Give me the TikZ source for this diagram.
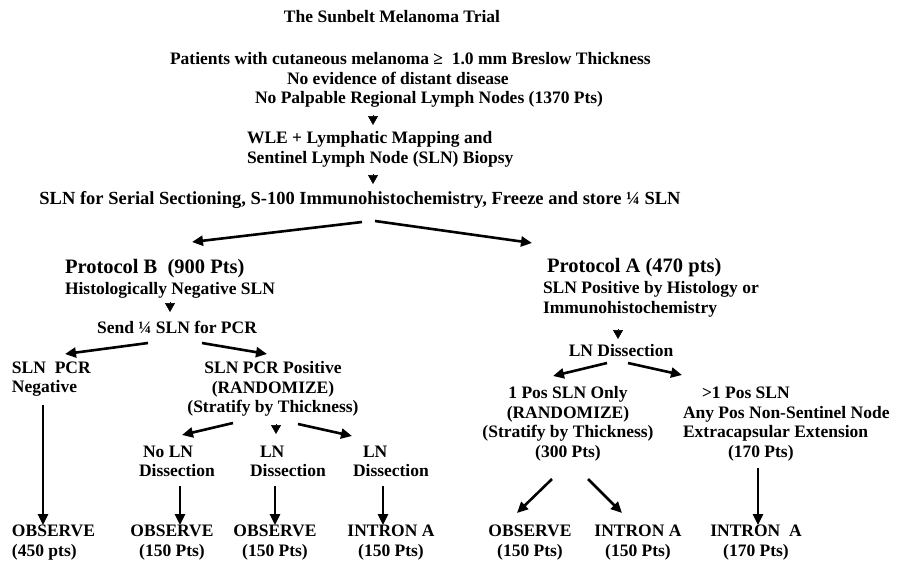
\documentclass[tikz,border=0pt]{standalone}
\usepackage{fontspec}
\setmainfont{Liberation Serif}
\usetikzlibrary{arrows.meta}
\begin{document}
\begin{tikzpicture}[x=1pt,y=-1pt,
  every node/.style={font=\fontsize{17.5}{19.5}\selectfont\bfseries, inner sep=0pt, outer sep=0pt},
  big/.style={font=\fontsize{20.5}{22}\selectfont\bfseries},
  arr/.style={line width=2.6pt, -{Triangle[length=11pt,width=10pt]}},
  tri/.style={line width=0.5pt, -{Triangle[length=9pt,width=10pt]}, shorten <=0pt}
]
\useasboundingbox (0,0) rectangle (905,563);

% top
\node (title) at (392,17) {The Sunbelt Melanoma Trial};
\node[anchor=west, align=left] (crit) at (170,80)
  {Patients with cutaneous melanoma ≥\ \ 1.0 mm Breslow Thickness\\
   \hspace*{117pt}No evidence of distant disease\\
   \hspace*{85pt}No Palpable Regional Lymph Nodes (1370 Pts)};
\coordinate (t1a) at (373,115); \coordinate (t1b) at (373,125);
\draw[tri] (t1a) -- (t1b);
\node[anchor=west, align=left] (wle) at (247,149.5)
  {WLE + Lymphatic Mapping and\\Sentinel Lymph Node (SLN) Biopsy};
\coordinate (t2a) at (373,174); \coordinate (t2b) at (373,184);
\draw[tri] (t2a) -- (t2b);
\node[font=\fontsize{18.5}{20}\selectfont\bfseries] (serial) at (360,200)
  {SLN for Serial Sectioning, S-100 Immunohistochemistry, Freeze and store ¼ SLN};

\coordinate (sl) at (362,222); \coordinate (sr) at (375,221);
\coordinate (pbt) at (192,242); \coordinate (pat) at (532,243);
\draw[arr] (sl) -- (pbt);
\draw[arr] (sr) -- (pat);

% protocol B
\node[big, anchor=west] (pb) at (65,269) {Protocol B\ \ (900 Pts)};
\node[anchor=west] (pbh) at (65,290) {Histologically Negative SLN};
\coordinate (t3a) at (170,302); \coordinate (t3b) at (170,312);
\draw[tri] (t3a) -- (t3b);
\node (send) at (177,327) {Send ¼ SLN for PCR};
\coordinate (sendl) at (148,343); \coordinate (sendr) at (202,343);
\coordinate (negt) at (65,354); \coordinate (post) at (267,354);
\draw[arr] (sendl) -- (negt);
\draw[arr] (sendr) -- (post);
\node[anchor=west, align=left] (neg) at (12,379) {SLN\ \ PCR\\Negative};
\node[align=center] (pos) at (273,389) {SLN PCR Positive\\(RANDOMIZE)\\(Stratify by Thickness)};
\coordinate (negb) at (43,405);
\node[anchor=west, align=left] (obs450) at (12,542.5) {OBSERVE\\(450 pts)};
\draw[arr] (negb) -- (obs450.north -| negb);

\coordinate (pl) at (233,423); \coordinate (pr) at (298,424);
\coordinate (c1t) at (182,435); \coordinate (c3t) at (352,436);
\draw[arr] (pl) -- (c1t);
\draw[arr] (pr) -- (c3t);
\coordinate (t4a) at (276,424); \coordinate (t4b) at (276,434);
\draw[tri] (t4a) -- (t4b);

\node[anchor=west, align=left] (c1) at (139,461.5) {\hspace*{4pt}No LN\\Dissection};
\node[anchor=west, align=left] (c2) at (250,461.5) {\hspace*{10pt}LN\\Dissection};
\node[anchor=west, align=left] (c3) at (353,461.5) {\hspace*{10pt}LN\\Dissection};
\node[align=center] (o1) at (172,542.5) {OBSERVE\\(150 Pts)};
\node[align=center] (o2) at (275,542.5) {OBSERVE\\(150 Pts)};
\node[align=center] (o3) at (391,542.5) {INTRON A\\(150 Pts)};
\coordinate (c1b) at (180,486); \coordinate (c2b) at (275,486); \coordinate (c3b) at (383,486);
\draw[arr] (c1b) -- (c1b |- o1.north);
\draw[arr] (c2b) -- (c2b |- o2.north);
\draw[arr] (c3b) -- (c3b |- o3.north);

% protocol A
\node[big, anchor=west] (pa) at (547,268) {Protocol A (470 pts)};
\node[anchor=west, align=left] (pah) at (543,299.5) {SLN Positive by Histology or\\Immunohistochemistry};
\coordinate (t5a) at (618,329); \coordinate (t5b) at (618,339);
\draw[tri] (t5a) -- (t5b);
\node (lnd) at (621,351) {LN Dissection};
\coordinate (lndl) at (607,363); \coordinate (lndr) at (628,363);
\coordinate (onet) at (553,376); \coordinate (moret) at (682,375);
\draw[arr] (lndl) -- (onet);
\draw[arr] (lndr) -- (moret);
\node[align=center] (one) at (568,424) {1 Pos SLN Only\\(RANDOMIZE)\\(Stratify by Thickness)\\(300 Pts)};
\node[anchor=west, align=left] (more) at (683,424)
  {\hspace*{19pt}>1 Pos SLN\\Any Pos Non-Sentinel Node\\Extracapsular Extension\\\hspace*{45pt}(170 Pts)};
\node[align=center] (o4) at (530,542.5) {OBSERVE\\(150 Pts)};
\node[align=center] (o5) at (638,542.5) {INTRON A\\(150 Pts)};
\node[align=center] (o6) at (756,542.5) {INTRON\ \ A\\(170 Pts)};
\coordinate (onel) at (552,479); \coordinate (oner) at (588,479);
\coordinate (o4t) at (517,513); \coordinate (o5t) at (622,513);
\draw[arr] (onel) -- (o4t);
\draw[arr] (oner) -- (o5t);
\coordinate (moreb) at (758,468);
\draw[arr] (moreb) -- (moreb |- o6.north);
\end{tikzpicture}
\end{document}
